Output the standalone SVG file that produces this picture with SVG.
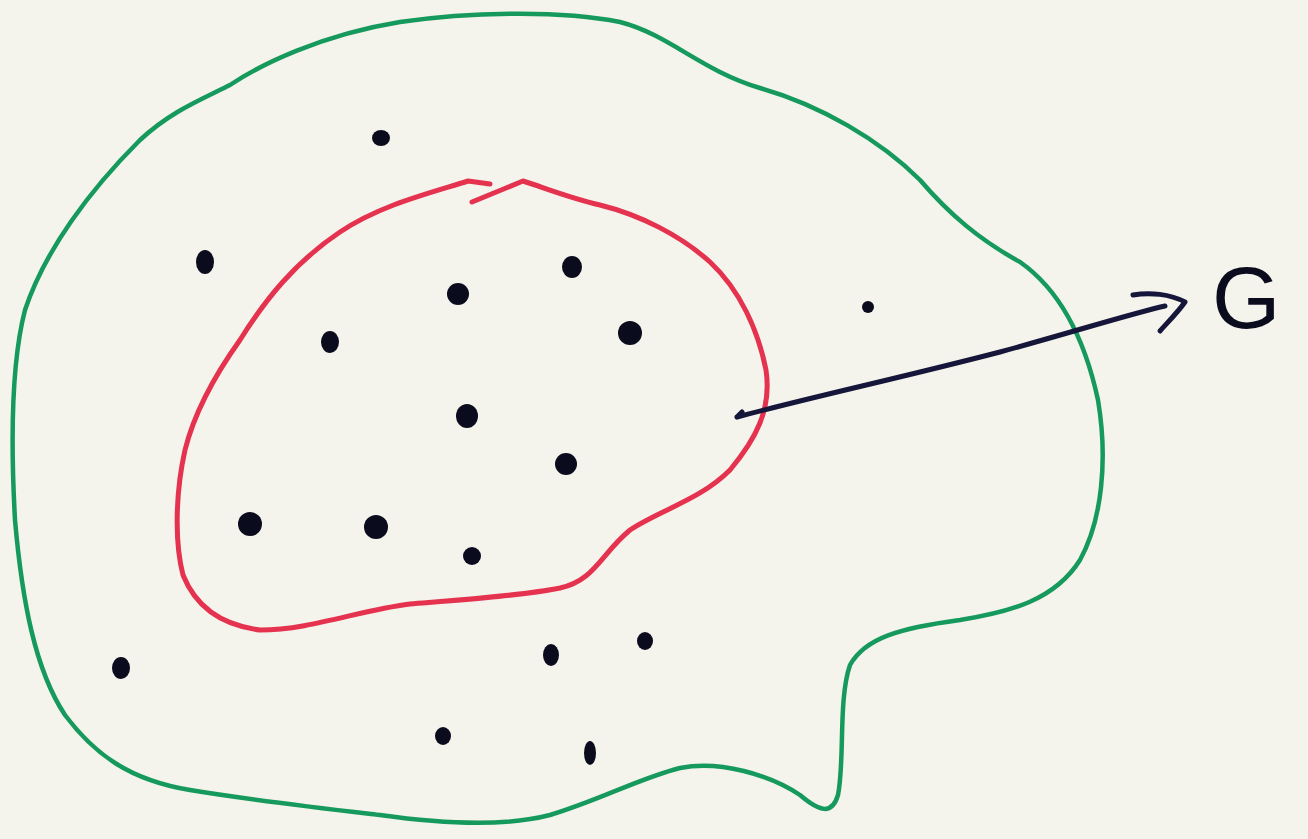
<svg xmlns="http://www.w3.org/2000/svg" width="1308" height="839" viewBox="0 0 1308 839">
<style>
.dot{fill:#0b0b1e}
.ink{fill:none;stroke:#15163a;stroke-width:5;stroke-linecap:round;stroke-linejoin:round}
</style>
<rect width="1308" height="839" fill="#f4f3ec"/>
<g id="outer-set">
<path d="M230,85 C260,65 320,35 400,22 C470,12 560,10 620,22 C670,35 700,70 760,88 C820,105 880,140 920,180 C950,215 980,240 1020,262 C1060,290 1085,340 1098,400 C1108,460 1102,520 1080,560 C1055,600 1010,612 960,620 C900,628 865,638 850,665 C838,700 845,760 838,795 C832,815 820,812 800,795 C770,775 720,760 680,768 C640,778 600,800 550,815 C500,828 430,822 380,815 C320,808 250,800 190,790 C130,780 95,755 65,715 C35,670 22,600 15,520 C10,430 12,360 25,310 C45,250 90,190 140,140 C170,112 200,100 230,85 Z" fill="none" stroke="#16995c" stroke-width="4.5" stroke-linejoin="round"/>
</g>
<g id="inner-set">
<path d="M472,202 L523,181 C545,188 570,198 600,205 C640,215 680,235 710,262 C740,290 758,330 766,370 C772,410 755,440 730,470 C700,500 660,510 630,530 C600,555 595,580 560,588 C520,596 460,600 410,604 C360,610 310,630 260,630 C220,625 195,605 183,575 C174,540 176,490 185,450 C195,410 215,375 240,340 C265,300 295,262 340,232 C380,205 430,193 468,181 L490,184" fill="none" stroke="#e4324f" stroke-width="5" stroke-linejoin="round" stroke-linecap="round"/>
</g>
<g id="points">
<ellipse class="dot" cx="381" cy="138" rx="9" ry="8"/>
<ellipse class="dot" cx="205" cy="262" rx="9" ry="12"/>
<ellipse class="dot" cx="572" cy="267" rx="10" ry="11"/>
<circle class="dot" cx="458" cy="294" r="11"/>
<ellipse class="dot" cx="330" cy="342" rx="9" ry="11"/>
<circle class="dot" cx="630" cy="333" r="12"/>
<circle class="dot" cx="868" cy="307" r="6"/>
<ellipse class="dot" cx="467" cy="416" rx="11" ry="12"/>
<circle class="dot" cx="566" cy="464" r="11"/>
<circle class="dot" cx="250" cy="524" r="12"/>
<circle class="dot" cx="376" cy="527" r="12"/>
<circle class="dot" cx="472" cy="556" r="9"/>
<ellipse class="dot" cx="121" cy="668" rx="9" ry="11"/>
<ellipse class="dot" cx="551" cy="655" rx="8" ry="11"/>
<ellipse class="dot" cx="645" cy="641" rx="8" ry="9"/>
<ellipse class="dot" cx="443" cy="736" rx="8" ry="9"/>
<ellipse class="dot" cx="590" cy="753" rx="6" ry="12"/>
</g>
<g id="connectors">
<path class="ink" d="M737,417 L742,412 M737,417 C820,395 900,378 1000,352 C1080,330 1130,314 1165,306"/>
<path class="ink" d="M1133,295 C1150,292 1170,294 1185,302 C1178,312 1168,322 1160,331" stroke-width="6"/>
</g>
<g id="label-G">
<text x="1212" y="328" font-family="Liberation Sans, sans-serif" font-size="88" fill="#0b0b1e">G</text>
</g>
</svg>
